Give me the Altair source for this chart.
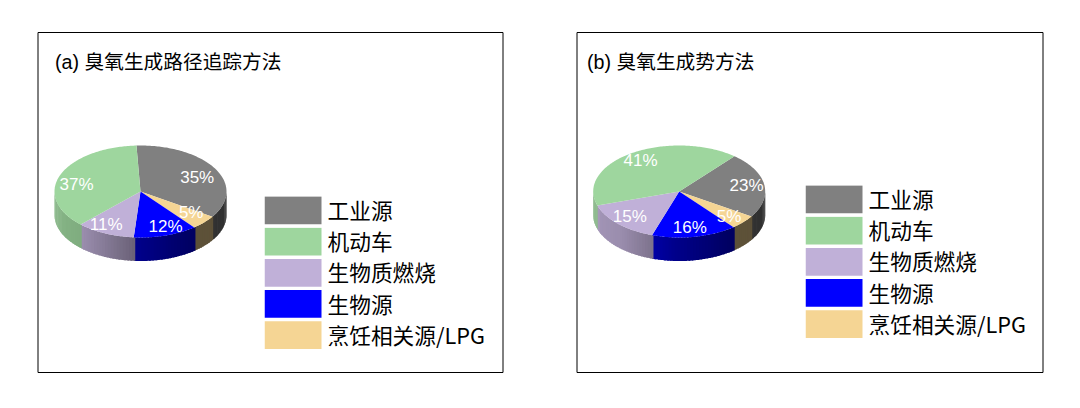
import numpy as np
import altair as alt

categories = ["工业源", "机动车", "生物质燃烧", "生物源", "烹饪相关源/LPG"]
colors = ["#808080", "#9ED69E", "#C0B0D8", "#0000FF", "#F5D594"]
share_a = [35, 37, 11, 12, 5]
share_b = [23, 41, 15, 16, 5]
# clockwise drawing order of the slices
order = [0, 4, 3, 2, 1]
title_a = "(a) 臭氧生成路径追踪方法"
title_b = "(b) 臭氧生成势方法"
label_x_a = [159.7, 39, 68.7, 128, 153.7]
label_y_a = [146.2, 152.5, 192.5, 194.5, 181.2]
label_x_b = [170, 64, 53.3, 113.3, 152.6]
label_y_b = [154.2, 129.2, 185.2, 196.2, 185.2]

FONT = "Liberation Sans, Noto Sans CJK SC"
PANEL_H = 340
A, B, DEPTH = 86, 46, 23.5


def hex_rgb(h):
    return np.array([int(h[i:i + 2], 16) for i in (1, 3, 5)], dtype=float)


def rgb_hex(c):
    return "#%02x%02x%02x" % tuple(int(round(v)) for v in c)


def shade(x):
    return float(np.interp(x, [-1, -.68, -.08, .6, 1], [.85, .8, .55, .38, .38]))


def panel(values, start, cx, cy, title, title_x, lx, ly, legend_y, legend_x, width):
    top, side = [], []
    t0 = start
    for i in order:
        t1 = t0 + values[i] * 3.6
        ts = np.radians(np.linspace(t0, t1, max(3, int(t1 - t0))))
        ring = [[cx, cy]] + [[cx + A * np.sin(t), cy - B * np.cos(t)] for t in ts] + [[cx, cy]]
        top.append({"type": "Feature",
                    "geometry": {"type": "Polygon", "coordinates": [[[float(p), float(q)] for p, q in ring]]},
                    "properties": {"cat": categories[i]}})
        lo, hi = max(t0, 90), min(t1, 270)
        if hi > lo:
            edges = np.linspace(lo, hi, max(2, int((hi - lo) / 2) + 1))
            for e0, e1 in zip(edges[:-1], edges[1:]):
                # every quad reaches back under the next one so that no seam shows
                arc0, arc1 = max(90, e0 - 1.0), e1
                r0, r1 = np.radians(arc0), np.radians(arc1)
                x0, y0 = cx + A * np.sin(r0), cy - B * np.cos(r0)
                x1, y1 = cx + A * np.sin(r1), cy - B * np.cos(r1)
                quad = [[x0, y0], [x1, y1], [x1, y1 + DEPTH]]
                mids = np.radians(np.linspace(arc1, arc0, 4))
                quad += [[cx + A * np.sin(m), cy - B * np.cos(m) + DEPTH] for m in mids[1:]]
                quad += [[x0, y0]]
                mid = np.radians((e0 + e1) / 2)
                c = rgb_hex(hex_rgb(colors[i]) * shade(np.sin(mid)))
                side.append({"type": "Feature",
                             "geometry": {"type": "Polygon",
                                          "coordinates": [[[float(p), float(q)] for p, q in quad]]},
                             "properties": {"c": c}})
        t0 = t1

    proj = dict(type="identity", scale=1, translate=[0, 0])
    side_layer = alt.Chart(alt.Data(values=side)).mark_geoshape(strokeWidth=0).encode(
        fill=alt.Fill("properties.c:N", scale=None),
    ).project(**proj)
    top_layer = alt.Chart(alt.Data(values=top)).mark_geoshape(strokeWidth=0).encode(
        fill=alt.Fill("properties.cat:N",
                      scale=alt.Scale(domain=categories, range=colors),
                      legend=alt.Legend(title=None, orient="none",
                                        legendX=legend_x, legendY=legend_y,
                                        symbolType="M-1,-0.553H1V0.43H-1Z",
                                        symbolSize=3249, symbolStrokeWidth=0,
                                        clipHeight=31, rowPadding=0.2, padding=0,
                                        labelFont="Noto Sans CJK SC", labelFontSize=21.7,
                                        labelColor="black", labelOffset=6, labelLimit=260)),
    ).project(**proj)

    pct = [{"t": f"{values[i]}%", "x": lx[i], "y": ly[i]} for i in range(5)]
    labels = alt.Chart(alt.Data(values=pct)).mark_text(
        color="white", font="Liberation Sans", fontSize=17, align="center", baseline="middle"
    ).encode(longitude="x:Q", latitude="y:Q", text="t:N").project(**proj)

    head = alt.Chart(alt.Data(values=[{"t": title, "x": title_x, "y": 30.5}])).mark_text(
        color="black", font=FONT, fontSize=19.7, align="left", baseline="middle"
    ).encode(longitude="x:Q", latitude="y:Q", text="t:N").project(**proj)

    return alt.layer(side_layer, top_layer, labels, head).properties(
        width=width, height=PANEL_H,
        view=alt.ViewBackground(stroke="black", strokeWidth=1, fill="white"))


a = panel(share_a, -2.7, 103, 159.5, title_a, 17.5, label_x_a, label_y_a, 164.5, 227, 465)
b = panel(share_b, 40, 102.7, 159.5, title_b, 10.5, label_x_b, label_y_b, 153.5, 229, 466)

chart = alt.hconcat(a, b, spacing=72).resolve_scale(fill="independent").properties(
    padding={"left": 28.5, "top": 23, "right": 0, "bottom": 0}
)

chart.save("out.html", embed_options={"renderer": "svg", "actions": False})
